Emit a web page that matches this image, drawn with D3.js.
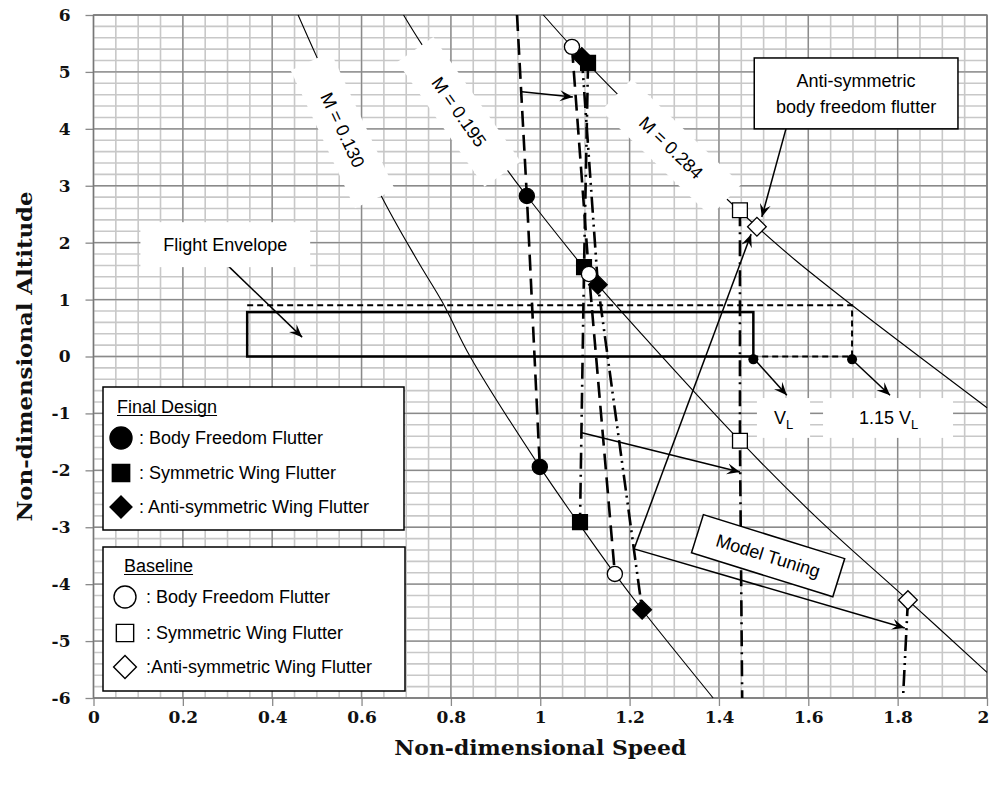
<!DOCTYPE html>
<html><head><meta charset="utf-8">
<script src="https://cdn.jsdelivr.net/npm/d3@7"></script>
<style>body{margin:0;background:#fff} svg{display:block}</style>
</head><body><svg id="c" width="990" height="785"></svg>
<script>
// ---------------- data ----------------
const xTickValues = [0,0.2,0.4,0.6,0.8,1,1.2,1.4,1.6,1.8,2];
const xTickLabels = ["0","0.2","0.4","0.6","0.8","1","1.2","1.4","1.6","1.8","2"];
const yTickValues = [-6,-5,-4,-3,-2,-1,0,1,2,3,4,5,6];
const yTickLabels = ["-6","-5","-4","-3","-2","-1","0","1","2","3","4","5","6"];
const xTitle = "Non-dimensional Speed";
const yTitle = "Non-dimensional Altitude";

// constant Mach lines  [speed, altitude]
const mach130 = [[0.458,6.0],[0.500,5.26],[0.641,2.87],[0.724,1.70],[0.782,0.94],[0.843,0.0],[0.999,-1.94],[1.078,-2.84],[1.167,-3.82],[1.228,-4.45],[1.387,-6.0]];
const mach195 = [[0.694,6.0],[0.736,5.47],[0.926,3.28],[0.970,2.82],[1.083,1.70],[1.129,1.26],[1.447,-1.48],[1.620,-2.84],[1.823,-4.28],[2.0,-5.55]];
const mach284 = [[1.007,6.0],[1.071,5.44],[1.179,4.56],[1.420,2.75],[1.485,2.28],[1.570,1.70],[1.698,0.90],[2.0,-0.90]];
const machNames = ["M = 0.130","M = 0.195","M = 0.284"];
const machLabelPos = [[0.558,3.98],[0.818,4.30],[1.293,3.67]];
const machLabelAngle = [65,55,44];

// final design flutter points
const finalBFF = [[0.970,2.82],[0.999,-1.94]];
const finalBFFLine = [[0.948,6.0],[0.970,2.82],[0.999,-1.94]];
const finalSym = [[1.107,5.16],[1.098,1.57],[1.089,-2.91]];
const finalAnti = [[1.093,5.26],[1.129,1.26],[1.228,-4.45]];
// baseline flutter points
const baseBFF = [[1.071,5.44],[1.109,1.45],[1.167,-3.82]];
const baseSym = [[1.447,2.57],[1.447,-1.48]];
const baseSymLine = [[1.447,2.57],[1.447,-1.48],[1.452,-6.0]];
const baseAnti = [[1.485,2.28],[1.823,-4.28]];
const baseAntiLine = [[1.823,-4.28],[1.812,-6.0]];

// flight envelope
const envSpeed = [0.344,1.477];
const envAlt = [0,0.78];
const env115Speed = [0.344,1.698];
const env115Alt = [0,0.90];
const vlPoints = [[1.477,-0.05],[1.698,-0.05]];

// annotation arrows [from, to]
const arrows = [
  [[0.959,4.65],[1.073,4.56]],
  [[1.093,-1.34],[1.447,-2.03]],
  [[1.210,-3.38],[1.472,2.15]],
  [[1.210,-3.38],[1.816,-4.77]],
  [[0.299,1.61],[0.467,0.34]],
  [[1.481,-0.06],[1.552,-0.68]],
  [[1.696,-0.04],[1.783,-0.68]],
  [[1.550,4.00],[1.496,2.45]]
];

// ---------------- chart ----------------
const svg = d3.select("#c");
const x = d3.scaleLinear().domain([0,2]).range([93.5,987]);
const y = d3.scaleLinear().domain([-6,6]).range([698,15]);
const SANS = "'Liberation Sans', Arial, sans-serif";
const SERIF = "'DejaVu Serif', serif";

svg.append("defs").append("marker")
  .attr("id","ah").attr("viewBox","-13 -6 14 12").attr("refX",0).attr("refY",0)
  .attr("markerWidth",14).attr("markerHeight",12).attr("markerUnits","userSpaceOnUse")
  .attr("orient","auto")
  .append("path").attr("d","M0,0 L-13,-5.5 L-8,0 L-13,5.5 Z").attr("fill","#000");

// grid
const grid = svg.append("g");
grid.selectAll("line.vmin").data(d3.range(0,41).map(i=>i*0.05)).join("line")
  .attr("x1",d=>x(d)).attr("x2",d=>x(d)).attr("y1",y(6)).attr("y2",y(-6))
  .attr("stroke","#c8c8c8").attr("stroke-width",1.6);
grid.selectAll("line.hmin").data(d3.range(0,61).map(i=>-6+i*0.2)).join("line")
  .attr("y1",d=>y(d)).attr("y2",d=>y(d)).attr("x1",x(0)).attr("x2",x(2))
  .attr("stroke","#c8c8c8").attr("stroke-width",1.6);
grid.selectAll("line.vmaj").data(xTickValues).join("line")
  .attr("x1",d=>x(d)).attr("x2",d=>x(d)).attr("y1",y(6)).attr("y2",y(-6))
  .attr("stroke","#8a8a8a").attr("stroke-width",1.3);
grid.selectAll("line.hmaj").data(yTickValues).join("line")
  .attr("y1",d=>y(d)).attr("y2",d=>y(d)).attr("x1",x(0)).attr("x2",x(2))
  .attr("stroke","#8a8a8a").attr("stroke-width",1.3);

// axes
const ax = svg.append("g").attr("transform",`translate(0,${y(-6)})`)
  .call(d3.axisBottom(x).tickValues(xTickValues).tickFormat((d,i)=>xTickLabels[i]).tickSize(8).tickPadding(5).tickSizeOuter(0));
const ay = svg.append("g").attr("transform",`translate(${x(0)},0)`)
  .call(d3.axisLeft(y).tickValues(yTickValues).tickFormat((d,i)=>yTickLabels[i]).tickSize(8).tickPadding(15).tickSizeOuter(0));
[ax,ay].forEach(a=>{
  a.select(".domain").remove();
  a.selectAll(".tick line").attr("stroke","#8a8a8a").attr("stroke-width",1.3);
  a.selectAll(".tick text").attr("font-family",SERIF).attr("font-weight","bold").attr("font-size",17).attr("fill","#111");
});
ax.selectAll(".tick text").filter(d=>d===2).attr("dx",-4);
svg.append("rect").attr("x",x(0)).attr("y",y(6)).attr("width",x(2)-x(0)).attr("height",y(-6)-y(6))
  .attr("fill","none").attr("stroke","#777").attr("stroke-width",1.3);

svg.append("text").attr("x",(x(0)+x(2))/2).attr("y",755).attr("text-anchor","middle")
  .attr("font-family",SERIF).attr("font-weight","bold").attr("font-size",20).attr("fill","#111")
  .attr("textLength",292).attr("lengthAdjust","spacingAndGlyphs").text(xTitle);
svg.append("text").attr("transform",`translate(32,${(y(6)+y(-6))/2}) rotate(-90)`).attr("text-anchor","middle")
  .attr("font-family",SERIF).attr("font-weight","bold").attr("font-size",20).attr("fill","#111")
  .attr("textLength",330).attr("lengthAdjust","spacingAndGlyphs").text(yTitle);

// Mach lines
const mline = d3.line().x(d=>x(d[0])).y(d=>y(d[1])).curve(d3.curveCatmullRom);
[mach130,mach195,mach284].forEach(m=>{
  svg.append("path").attr("d",mline(m)).attr("fill","none").attr("stroke","#000").attr("stroke-width",1.1);
});

// Flight envelope
svg.append("path")
  .attr("d",`M${x(env115Speed[0])},${y(env115Alt[1])} L${x(env115Speed[1])},${y(env115Alt[1])} L${x(env115Speed[1])},${y(env115Alt[0])} L${x(envSpeed[1])},${y(env115Alt[0])}`)
  .attr("fill","none").attr("stroke","#000").attr("stroke-width",2).attr("stroke-dasharray","6,4");
svg.append("rect").attr("x",x(envSpeed[0])).attr("y",y(envAlt[1]))
  .attr("width",x(envSpeed[1])-x(envSpeed[0])).attr("height",y(envAlt[0])-y(envAlt[1]))
  .attr("fill","none").attr("stroke","#000").attr("stroke-width",2.5);

// Flutter boundary lines
const fline = d3.line().x(d=>x(d[0])).y(d=>y(d[1]));
const dashBFF = "16,8", dashSym = "16,6,2,6", dashAnti = "16,5,2,5,2,5";
[[finalBFFLine,dashBFF],[finalSym,dashSym],[finalAnti,dashAnti],[baseBFF,dashBFF],[baseSymLine,dashSym],[baseAntiLine,dashAnti]]
 .forEach(([d,dash])=>{
  svg.append("path").attr("d",fline(d)).attr("fill","none").attr("stroke","#000").attr("stroke-width",2.6).attr("stroke-dasharray",dash);
 });

// Mach label boxes
machNames.forEach((t,i)=>{
  const gg = svg.append("g").attr("transform",`translate(${x(machLabelPos[i][0])},${y(machLabelPos[i][1])}) rotate(${machLabelAngle[i]})`);
  gg.append("rect").attr("x",-76).attr("y",-22).attr("width",152).attr("height",44).attr("fill","#fff");
  gg.append("text").attr("text-anchor","middle").attr("dy","0.35em").attr("font-family",SANS).attr("font-size",18).text(t);
});

// Arrows
arrows.forEach(([a,b])=>{
  svg.append("line").attr("x1",x(a[0])).attr("y1",y(a[1])).attr("x2",x(b[0])).attr("y2",y(b[1]))
    .attr("stroke","#000").attr("stroke-width",1.5).attr("marker-end","url(#ah)");
});

// Markers
const sym = (type,size)=>d3.symbol().type(type).size(size)();
function drawMarkers(pts,kind,filled,scale){
  const s = scale||1;
  pts.forEach(p=>{
    const cx=x(p[0]), cy=y(p[1]);
    let path, rot=0;
    if(kind==="circle") path=sym(d3.symbolCircle,180*s);
    else if(kind==="square") path=sym(d3.symbolSquare,220*s);
    else {path=sym(d3.symbolSquare,175*s); rot=45;}
    svg.append("path").attr("d",path).attr("transform",`translate(${cx},${cy}) rotate(${rot})`)
      .attr("fill",filled?"#000":"#fff").attr("stroke","#000").attr("stroke-width",1.3);
  });
}
drawMarkers(finalBFF,"circle",true);
drawMarkers(finalSym,"square",true);
drawMarkers(finalAnti,"diamond",true);
drawMarkers(baseBFF,"circle",false);
drawMarkers(baseSym,"square",false);
drawMarkers(baseAnti,"diamond",false);
vlPoints.forEach(p=>svg.append("circle").attr("cx",x(p[0])).attr("cy",y(p[1])).attr("r",5).attr("fill","#000"));

// Text annotations
function box(x0,y0,w,h,border){
  svg.append("rect").attr("x",x0).attr("y",y0).attr("width",w).attr("height",h)
   .attr("fill","#fff").attr("stroke",border?"#000":"none").attr("stroke-width",1.5);
}
// Flight envelope
box(x(0.105),y(2.36),x(0.485)-x(0.105),y(1.57)-y(2.36),false);
svg.append("text").attr("x",x(0.295)).attr("y",y(1.96)).attr("dy","0.35em").attr("text-anchor","middle")
  .attr("font-family",SANS).attr("font-size",18).text("Flight Envelope");
// Anti-symmetric BFF
box(x(1.479),y(5.245),x(1.935)-x(1.479),y(4.0)-y(5.245),true);
svg.append("text").attr("x",x(1.707)).attr("y",y(4.84)).attr("dy","0.35em").attr("text-anchor","middle")
  .attr("font-family",SANS).attr("font-size",18).text("Anti-symmetric");
svg.append("text").attr("x",x(1.707)).attr("y",y(4.39)).attr("dy","0.35em").attr("text-anchor","middle")
  .attr("font-family",SANS).attr("font-size",18).text("body freedom flutter");
// VL labels
box(x(1.485),y(-0.73),x(1.604)-x(1.485),y(-1.43)-y(-0.73),false);
box(x(1.633),y(-0.73),x(1.924)-x(1.633),y(-1.43)-y(-0.73),false);
function vl(t,cx){
  const tx = svg.append("text").attr("x",x(cx)).attr("y",y(-1.08)).attr("dy","0.35em").attr("text-anchor","middle")
   .attr("font-family",SANS).attr("font-size",18);
  tx.append("tspan").text(t+"V");
  tx.append("tspan").attr("font-size",13).attr("dy","5").text("L");
}
vl("",1.545); vl("1.15 ",1.78);
// Model Tuning
{
  const gg = svg.append("g").attr("transform",`translate(${x(1.510)},${y(-3.50)}) rotate(17.3)`);
  gg.append("rect").attr("x",-74).attr("y",-20).attr("width",148).attr("height",40).attr("fill","#fff").attr("stroke","#000").attr("stroke-width",1.5);
  gg.append("text").attr("text-anchor","middle").attr("dy","0.35em").attr("font-family",SANS).attr("font-size",18).text("Model Tuning");
}

// Legends
function legend(x0,y0,w,h,title,items,mx,tx,ys,ty,big){
  box(x0,y0,w,h,true);
  const t = svg.append("text").attr("x",tx-22).attr("y",ty).attr("font-family",SANS).attr("font-size",18).text(title);
  const bb = t.node().getBBox();
  svg.append("line").attr("x1",bb.x).attr("x2",bb.x+bb.width).attr("y1",ty+2.5).attr("y2",ty+2.5).attr("stroke","#000").attr("stroke-width",1.2);
  items.forEach((it,i)=>{
    const cy=ys[i];
    let path, rot=0;
    if(it.kind==="circle") path=sym(d3.symbolCircle,big.c);
    else if(it.kind==="square") path=sym(d3.symbolSquare,big.s);
    else {path=sym(d3.symbolSquare,big.d); rot=45;}
    svg.append("path").attr("d",path).attr("transform",`translate(${mx},${cy}) rotate(${rot})`)
      .attr("fill",it.filled?"#000":"#fff").attr("stroke","#000").attr("stroke-width",1.4);
    svg.append("text").attr("x",tx).attr("y",cy).attr("dy","0.35em").attr("font-family",SANS).attr("font-size",18).text(it.label);
  });
}
const legendFinal = [
  {kind:"circle",filled:true,label:": Body Freedom Flutter"},
  {kind:"square",filled:true,label:": Symmetric Wing Flutter"},
  {kind:"diamond",filled:true,label:": Anti-symmetric Wing Flutter"}];
const legendBase = [
  {kind:"circle",filled:false,label:": Body Freedom Flutter"},
  {kind:"square",filled:false,label:": Symmetric Wing Flutter"},
  {kind:"diamond",filled:false,label:":Anti-symmetric Wing Flutter"}];
legend(103,387,301,143,"Final Design",legendFinal,121,139,[438,473,507],413,{c:380,s:300,d:240});
legend(103,547,302,144,"Baseline",legendBase,125,146,[597,633,667],572,{c:380,s:300,d:260});
</script></body></html>
